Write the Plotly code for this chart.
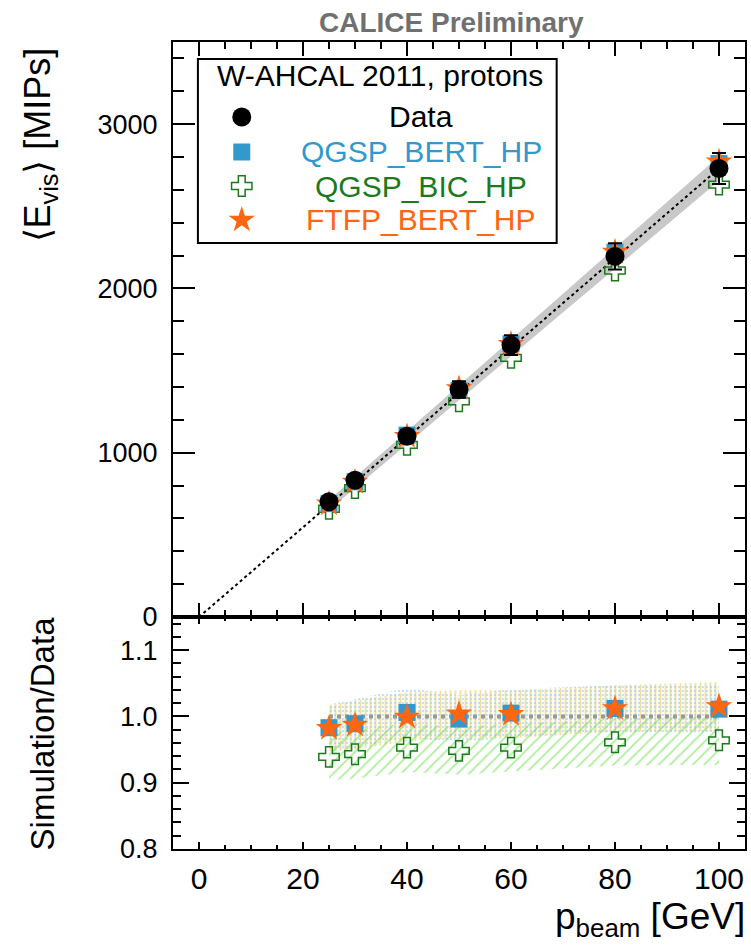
import plotly.graph_objects as go

# ---- data -------------------------------------------------------------
p_beam = [25, 30, 40, 50, 60, 80, 100]

data_evis = [702, 832, 1100, 1385, 1655, 2195, 2730]
data_err = [25, 30, 40, 50, 60, 80, 95]

bert_evis = [690, 823, 1107, 1379, 1663, 2221, 2760]
bic_evis = [659, 785, 1048, 1313, 1577, 2109, 2632]
ftfp_evis = [689, 821, 1099, 1391, 1660, 2221, 2771]

bert_ratio = [0.983, 0.989, 1.006, 0.996, 1.005, 1.012, 1.011]
bic_ratio = [0.939, 0.943, 0.953, 0.948, 0.953, 0.961, 0.964]
ftfp_ratio = [0.982, 0.987, 0.999, 1.004, 1.003, 1.012, 1.015]
ratio_unc = [0.035, 0.037, 0.037, 0.036, 0.036, 0.035, 0.037]

fit_p = [0, 100]
fit_evis = [0, 2730]
band_p = [25, 100]
band_lo = [652, 2655]
band_hi = [712, 2805]

unity_p = [25, 100]
unity_val = [1.0, 1.0]

x_ticks = [0, 20, 40, 60, 80, 100]
y_ticks = [0, 1000, 2000, 3000]
r_ticks = [0.8, 0.9, 1.0, 1.1]
r_ticktext = ["0.8", "0.9", "1.0", "1.1"]

legend_labels = ["Data", "QGSP_BERT_HP", "QGSP_BIC_HP", "FTFP_BERT_HP"]

# ---- style ------------------------------------------------------------
W, H = 751, 945
ML, MR, MT, MB = 173, 4, 42, 96
PW, PH = W - ML - MR, H - MT - MB
SPLIT = 617  # pixel row separating the two panels

FONT = "Liberation Sans, Arial, Helvetica, sans-serif"
C_DATA = "black"
C_BERT = "#3399cc"
C_BIC = "#1b7a1b"
C_FTFP = "#ff6611"


def px_x(px):
    return (px - ML) / PW


def px_y(py):
    return (H - MB - py) / PH


split_frac = px_y(SPLIT)

fig = go.Figure()

# ---- upper panel ------------------------------------------------------
fig.add_trace(go.Scatter(x=band_p, y=band_lo, mode="lines", line=dict(width=0),
                         xaxis="x", yaxis="y", showlegend=False, hoverinfo="skip"))
fig.add_trace(go.Scatter(x=band_p, y=band_hi, mode="lines", line=dict(width=0),
                         fill="tonexty", fillcolor="#c8c8c8",
                         xaxis="x", yaxis="y", showlegend=False, hoverinfo="skip"))
fig.add_trace(go.Scatter(x=fit_p, y=fit_evis, mode="lines",
                         line=dict(color="black", width=2, dash="dot"),
                         xaxis="x", yaxis="y", showlegend=False))
fig.add_trace(go.Scatter(x=p_beam, y=bic_evis, mode="markers",
                         marker=dict(symbol="cross-open", size=17, color=C_BIC,
                                     line=dict(color=C_BIC, width=1.5)),
                         xaxis="x", yaxis="y", showlegend=False))
fig.add_trace(go.Scatter(x=p_beam, y=bert_evis, mode="markers",
                         marker=dict(symbol="square", size=17, color=C_BERT),
                         xaxis="x", yaxis="y", showlegend=False))
fig.add_trace(go.Scatter(x=p_beam, y=ftfp_evis, mode="markers",
                         marker=dict(symbol="star", size=20, color=C_FTFP),
                         xaxis="x", yaxis="y", showlegend=False))
fig.add_trace(go.Scatter(x=p_beam, y=data_evis, mode="markers",
                         marker=dict(symbol="circle", size=19, color=C_DATA),
                         error_y=dict(type="data", array=data_err, color="black",
                                      thickness=2, width=7),
                         xaxis="x", yaxis="y", showlegend=False))

# ---- ratio panel ------------------------------------------------------
bands = [
    (ftfp_ratio, "|", "#f0c23c", 5, 0.38),
    (bic_ratio, "/", "#55dd33", 8, 0.22),
    (bert_ratio, ".", "#8cc8ec", 4, 0.3),
]
for vals, shape, col, size, sol in bands:
    lo = [v - u for v, u in zip(vals, ratio_unc)]
    hi = [v + u for v, u in zip(vals, ratio_unc)]
    fig.add_trace(go.Scatter(x=p_beam, y=lo, mode="lines", line=dict(width=0),
                             xaxis="x2", yaxis="y2", showlegend=False, hoverinfo="skip"))
    fig.add_trace(go.Scatter(x=p_beam, y=hi, mode="lines", line=dict(width=0),
                             fill="tonexty", fillcolor="rgba(0,0,0,0)",
                             fillpattern=dict(shape=shape, fgcolor=col, bgcolor="rgba(0,0,0,0)",
                                              size=size, solidity=sol),
                             xaxis="x2", yaxis="y2", showlegend=False, hoverinfo="skip"))

fig.add_trace(go.Scatter(x=unity_p, y=unity_val, mode="lines",
                         line=dict(color="#999999", width=4, dash="dot"),
                         xaxis="x2", yaxis="y2", showlegend=False))
fig.add_trace(go.Scatter(x=p_beam, y=bic_ratio, mode="markers",
                         marker=dict(symbol="cross-open", size=17, color=C_BIC,
                                     line=dict(color=C_BIC, width=1.5)),
                         xaxis="x2", yaxis="y2", showlegend=False))
fig.add_trace(go.Scatter(x=p_beam, y=bert_ratio, mode="markers",
                         marker=dict(symbol="square", size=17, color=C_BERT),
                         xaxis="x2", yaxis="y2", showlegend=False))
fig.add_trace(go.Scatter(x=p_beam, y=ftfp_ratio, mode="markers",
                         marker=dict(symbol="star", size=20, color=C_FTFP),
                         xaxis="x2", yaxis="y2", showlegend=False))

# ---- legend symbols on a pixel-space helper axis ----------------------
leg_sym_x = 242
leg_rows = [117, 152, 186, 220]
leg_syms = [("circle", 19, C_DATA, 0), ("square", 17, C_BERT, 0),
            ("cross-open", 17, C_BIC, 1.5), ("star", 20, C_FTFP, 0)]
for (sym, sz, col, lw), row in zip(leg_syms, leg_rows):
    fig.add_trace(go.Scatter(x=[leg_sym_x], y=[row], mode="markers",
                             marker=dict(symbol=sym, size=sz, color=col,
                                         line=dict(color=col, width=lw)),
                             xaxis="x3", yaxis="y3", showlegend=False, cliponaxis=False))

axis_common = dict(showline=True, linecolor="black", linewidth=2, mirror="allticks",
                   ticks="inside", tickcolor="black", tickwidth=2,
                   showgrid=False, zeroline=False)

fig.update_layout(
    width=W, height=H,
    margin=dict(l=ML, r=MR, t=MT, b=MB, pad=0),
    paper_bgcolor="white", plot_bgcolor="rgba(0,0,0,0)",
    font=dict(family=FONT, color="black"),
    showlegend=False,
    xaxis=dict(domain=[0, 1], anchor="y", range=[-5, 105], tickvals=x_ticks,
               showticklabels=False, ticklen=14,
               minor=dict(dtick=5, tick0=0, ticklen=7, tickwidth=2, ticks="inside",
                          tickcolor="black"),
               **axis_common),
    yaxis=dict(domain=[split_frac, 1], anchor="x", range=[0, 3500], tickvals=y_ticks,
               ticklen=22, ticklabelstandoff=8,
               tickfont=dict(size=27, family=FONT),
               minor=dict(dtick=200, tick0=0, ticklen=11, tickwidth=2, ticks="inside",
                          tickcolor="black"),
               **axis_common),
    xaxis2=dict(domain=[0, 1], anchor="y2", range=[-5, 105], tickvals=x_ticks,
                ticklen=7, ticklabelstandoff=2,
                tickfont=dict(size=30, family=FONT),
                minor=dict(dtick=5, tick0=0, ticklen=4, tickwidth=2, ticks="inside",
                           tickcolor="black"),
                **axis_common),
    yaxis2=dict(domain=[0, split_frac], anchor="x2", range=[0.8, 1.15],
                tickvals=r_ticks, ticktext=r_ticktext,
                ticklen=16, ticklabelstandoff=8,
                tickfont=dict(size=27, family=FONT),
                minor=dict(dtick=0.02, tick0=0.8, ticklen=8, tickwidth=2, ticks="inside",
                           tickcolor="black"),
                **axis_common),
    xaxis3=dict(domain=[0, 1], anchor="y3", range=[ML, W - MR], visible=False),
    yaxis3=dict(domain=[0, 1], anchor="x3", range=[H - MB, MT], visible=False),
)

# legend frame and texts
fig.add_shape(type="rect", xref="paper", yref="paper",
              x0=px_x(198), x1=px_x(558), y0=px_y(243), y1=px_y(59),
              line=dict(color="black", width=2), fillcolor="white", layer="below")

annotations = [
    dict(text="W-AHCAL 2011, protons", x=px_x(381), y=px_y(76), size=30, color="black"),
]
leg_colors = [C_DATA, C_BERT, C_BIC, C_FTFP]
for lab, col, row in zip(legend_labels, leg_colors, leg_rows):
    annotations.append(dict(text=lab, x=px_x(422), y=px_y(row), size=30, color=col))

for a in annotations:
    fig.add_annotation(text=a["text"], xref="paper", yref="paper", x=a["x"], y=a["y"],
                       xanchor="center", yanchor="middle", showarrow=False,
                       font=dict(size=a["size"], color=a["color"], family=FONT))

fig.add_annotation(text="<b>CALICE Preliminary</b>", xref="paper", yref="paper",
                   x=px_x(452), y=px_y(22), xanchor="center", yanchor="middle",
                   showarrow=False, font=dict(size=28, color="#707070", family=FONT))
fig.add_annotation(text="\u27e8E<sub>vis</sub>\u27e9 [MIPs]", xref="paper", yref="paper",
                   x=px_x(40), y=px_y(145), xanchor="center", yanchor="middle",
                   textangle=-90, showarrow=False, font=dict(size=36, family=FONT))
fig.add_annotation(text="Simulation/Data", xref="paper", yref="paper",
                   x=px_x(42), y=px_y(733), xanchor="center", yanchor="middle",
                   textangle=-90, showarrow=False, font=dict(size=33, family=FONT))
fig.add_annotation(text="p<sub>beam</sub> [GeV]", xref="paper", yref="paper",
                   x=px_x(749), y=px_y(944), xanchor="right", yanchor="bottom",
                   showarrow=False, font=dict(size=37, family=FONT))

fig.write_html("out.html")
